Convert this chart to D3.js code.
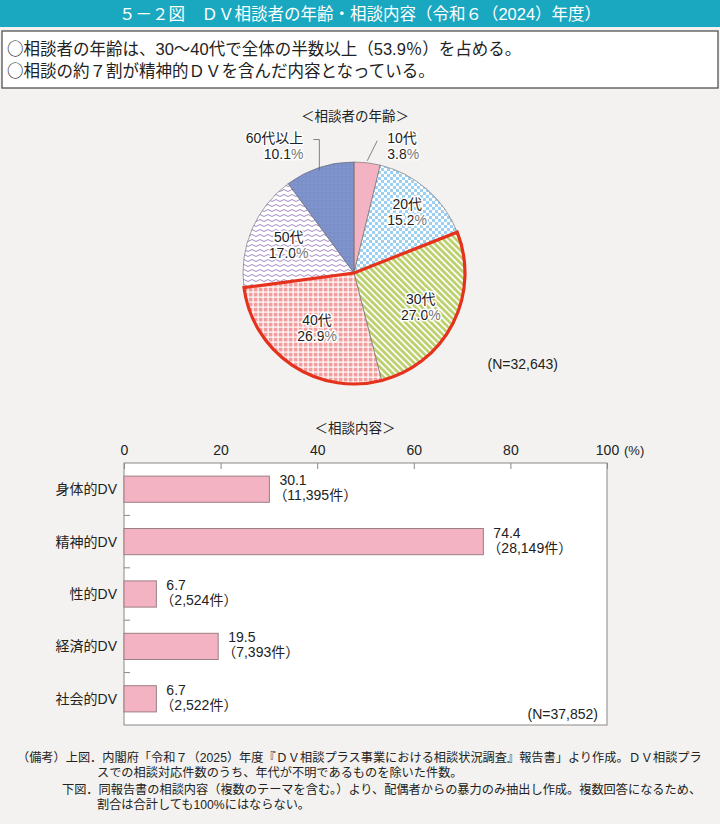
<!DOCTYPE html>
<head>
<meta charset="utf-8">
<style>
body { margin: 0; background: #f3f2f0; }
svg { display: block; }
text { font-family: "Liberation Sans", "Noto Sans CJK JP", sans-serif; fill: #222; }
.cjk { font-family: "Noto Sans CJK JP", sans-serif; }
.halo { paint-order: stroke; stroke: #fff; stroke-width: 3px; stroke-linejoin: round; }
.pct { fill: #777; }
</style>
</head>
<body>
<script src="https://cdnjs.cloudflare.com/ajax/libs/d3/7.8.5/d3.min.js"></script>
<script>
// pie: age of consulters
var ageLabels = ["10代", "20代", "30代", "40代", "50代", "60代以上"];
var ageValues = [3.8, 15.2, 27.0, 26.9, 17.0, 10.1];
var ageN = "(N=32,643)";

// bars: consultation content
var contentLabels = ["身体的DV", "精神的DV", "性的DV", "経済的DV", "社会的DV"];
var contentValues = [30.1, 74.4, 6.7, 19.5, 6.7];
var contentCounts = ["11,395", "28,149", "2,524", "7,393", "2,522"];
var contentN = "(N=37,852)";
var xTicks = [0, 20, 40, 60, 80, 100];

var W = 720, H = 824;
var svg = d3.select("body").append("svg").attr("width", W).attr("height", H);

svg.append("rect").attr("width", W).attr("height", H).attr("fill", "#f3f2f0");

// header
svg.append("rect").attr("x", 0).attr("y", 0).attr("width", W).attr("height", 27).attr("fill", "#1aa8c1");
svg.append("text").attr("x", W / 2).attr("y", 19.5).attr("text-anchor", "middle")
  .style("font-size", "16.5px").style("fill", "#fff")
  .text("５－２図　ＤＶ相談者の年齢・相談内容（令和６（2024）年度）");

// summary box
var points = [
  "相談者の年齢は、30～40代で全体の半数以上（53.9％）を占める。",
  "相談の約７割が精神的ＤＶを含んだ内容となっている。"
];
svg.append("rect").attr("x", 2).attr("y", 31).attr("width", W - 4).attr("height", 57)
  .attr("fill", "#fff").attr("stroke", "#444").attr("stroke-width", 1.2);
points.forEach(function (p, i) {
  var t = svg.append("text").attr("x", 7).attr("y", 55 + i * 22).style("font-size", "16.5px");
  t.append("tspan").attr("class", "cjk").text("○");
  t.append("tspan").text(p);
});

// patterns
var defs = svg.append("defs");

var p20 = defs.append("pattern").attr("id", "p20").attr("patternUnits", "userSpaceOnUse")
  .attr("width", 6).attr("height", 6);
p20.append("rect").attr("width", 6).attr("height", 6).attr("fill", "#fff");
p20.append("rect").attr("width", 3).attr("height", 3).attr("fill", "#9dcff0");
p20.append("rect").attr("x", 3).attr("y", 3).attr("width", 3).attr("height", 3).attr("fill", "#9dcff0");

var p30 = defs.append("pattern").attr("id", "p30").attr("patternUnits", "userSpaceOnUse")
  .attr("width", 4.5).attr("height", 4.5).attr("patternTransform", "rotate(-45)");
p30.append("rect").attr("width", 4.5).attr("height", 4.5).attr("fill", "#fff");
p30.append("rect").attr("width", 2.8).attr("height", 4.5).attr("fill", "#bcd06e");

var p40 = defs.append("pattern").attr("id", "p40").attr("patternUnits", "userSpaceOnUse")
  .attr("width", 5).attr("height", 5);
p40.append("rect").attr("width", 5).attr("height", 5).attr("fill", "#f29e9e");
p40.append("rect").attr("x", 3.5).attr("width", 1.2).attr("height", 5).attr("fill", "#fff");
p40.append("rect").attr("y", 3.5).attr("width", 5).attr("height", 1.2).attr("fill", "#fff");

var p50 = defs.append("pattern").attr("id", "p50").attr("patternUnits", "userSpaceOnUse")
  .attr("width", 8).attr("height", 5);
p50.append("rect").attr("width", 8).attr("height", 5).attr("fill", "#fff");
p50.append("path").attr("d", "M0,2.5 Q2,0.5 4,2.5 T8,2.5").attr("fill", "none")
  .attr("stroke", "#a58ac6").attr("stroke-width", 1);

var p60 = defs.append("pattern").attr("id", "p60").attr("patternUnits", "userSpaceOnUse")
  .attr("width", 4).attr("height", 4);
p60.append("rect").attr("width", 4).attr("height", 4).attr("fill", "#7b8fc9");
p60.append("circle").attr("cx", 2).attr("cy", 2).attr("r", 0.6).attr("fill", "#9aabdb");

var fills = ["#f4b3c2", "url(#p20)", "url(#p30)", "url(#p40)", "url(#p50)", "url(#p60)"];
var labelRadius = [0, 81, 75, 66, 71, 0];

// pie
var cx = 354, cy = 273, R = 111;
svg.append("text").attr("x", 355).attr("y", 121).attr("text-anchor", "middle")
  .style("font-size", "13.5px").text("＜相談者の年齢＞");

var pie = d3.pie().sort(null).value(function (d) { return d; });
var arcs = pie(ageValues);
var arc = d3.arc().innerRadius(0).outerRadius(R);

var gPie = svg.append("g").attr("transform", "translate(" + cx + "," + cy + ")");
gPie.selectAll("path.slice").data(arcs).enter().append("path")
  .attr("class", "slice")
  .attr("d", arc)
  .attr("fill", function (d, i) { return fills[i]; })
  .attr("stroke", "#666").attr("stroke-width", 0.6);

// red outline round 30代 + 40代
gPie.append("path")
  .attr("d", arc({ startAngle: arcs[2].startAngle, endAngle: arcs[3].endAngle }))
  .attr("fill", "none").attr("stroke", "#e5321d").attr("stroke-width", 3.2)
  .attr("stroke-linejoin", "miter");

// two-line label, y = baseline of first line
function pieLabel(g, x, y, name, val, anchor) {
  g.append("text").attr("class", "halo").attr("text-anchor", anchor)
    .attr("x", x).attr("y", y).style("font-size", "14px").text(name);
  var t2 = g.append("text").attr("class", "halo").attr("text-anchor", anchor)
    .attr("x", x).attr("y", y + 16).style("font-size", "14px").text(val.toFixed(1));
  t2.append("tspan").attr("class", "pct").text("%");
}

arcs.forEach(function (d, i) {
  if (i === 0 || i === 5) return;
  var c = d3.arc().innerRadius(labelRadius[i]).outerRadius(labelRadius[i]).centroid(d);
  pieLabel(gPie, c[0], c[1] - 3, ageLabels[i], ageValues[i], "middle");
});

// outside labels with leader lines
var mid0 = (arcs[0].startAngle + arcs[0].endAngle) / 2;
var e0 = [Math.sin(mid0) * R, -Math.cos(mid0) * R];
gPie.append("path").attr("d", "M" + e0[0] + "," + (e0[1] - 2) + "L" + (e0[0] + 10) + "," + (e0[1] - 22))
  .attr("fill", "none").attr("stroke", "#666").attr("stroke-width", 0.8);
pieLabel(gPie, e0[0] + 20, e0[1] - 20, ageLabels[0], ageValues[0], "start");

var mid5 = (arcs[5].startAngle + arcs[5].endAngle) / 2;
var e5 = [Math.sin(mid5) * R, -Math.cos(mid5) * R];
gPie.append("path").attr("d", "M" + e5[0] + "," + (e5[1] + 3) + "V" + (e5[1] - 28) + "H" + (e5[0] - 6))
  .attr("fill", "none").attr("stroke", "#666").attr("stroke-width", 0.8);
pieLabel(gPie, e5[0] - 16, e5[1] - 25, ageLabels[5], ageValues[5], "end");

svg.append("text").attr("x", 558).attr("y", 369).attr("text-anchor", "end")
  .style("font-size", "14px").text(ageN);

// bar chart
var plot = { left: 124, right: 607, top: 463, bottom: 725 };
svg.append("text").attr("x", 355).attr("y", 433).attr("text-anchor", "middle")
  .style("font-size", "13.5px").text("＜相談内容＞");

var x = d3.scaleLinear().domain([0, 100]).range([plot.left, plot.right]);
var y = d3.scaleBand().domain(contentLabels).range([plot.top, plot.bottom]).paddingInner(0.5).paddingOuter(0.25);

svg.append("rect").attr("x", plot.left).attr("y", plot.top)
  .attr("width", plot.right - plot.left).attr("height", plot.bottom - plot.top)
  .attr("fill", "#fff").attr("stroke", "#888").attr("stroke-width", 1);

var xAxis = d3.axisTop(x).tickValues(xTicks).tickSize(-6).tickPadding(8);
var gx = svg.append("g").attr("transform", "translate(0," + plot.top + ")").call(xAxis);
gx.select(".domain").remove();
gx.selectAll(".tick line").attr("stroke", "#888");
gx.selectAll(".tick text").style("font-size", "14px")
  .style("font-family", "\"Liberation Sans\", \"Noto Sans CJK JP\", sans-serif").attr("fill", "#222");
svg.append("text").attr("x", x(100) + 17).attr("y", plot.top - 8)
  .style("font-size", "13px").attr("fill", "#777").text("(%)");

// separator ticks on left axis
var step = y.step();
d3.range(1, contentLabels.length).forEach(function (i) {
  var yy = y(contentLabels[i]) - (step - y.bandwidth()) / 2;
  svg.append("line").attr("x1", plot.left).attr("x2", plot.left + 6)
    .attr("y1", yy).attr("y2", yy).attr("stroke", "#888");
});

svg.selectAll("rect.bar").data(contentValues).enter().append("rect")
  .attr("class", "bar")
  .attr("x", x(0))
  .attr("y", function (d, i) { return y(contentLabels[i]); })
  .attr("width", function (d) { return x(d) - x(0); })
  .attr("height", y.bandwidth())
  .attr("fill", "#f4b3c2").attr("stroke", "#9b7e84").attr("stroke-width", 1);

svg.selectAll("text.cat").data(contentLabels).enter().append("text")
  .attr("class", "cat")
  .attr("x", plot.left - 7)
  .attr("y", function (d) { return y(d) + y.bandwidth() / 2 + 5; })
  .attr("text-anchor", "end").style("font-size", "14px")
  .text(function (d) { return d; });

contentValues.forEach(function (v, i) {
  var by = y(contentLabels[i]);
  svg.append("text").attr("x", x(v) + 10).attr("y", by + 9)
    .style("font-size", "14px").text(v.toFixed(1));
  svg.append("text").attr("x", x(v) + 4).attr("y", by + 24)
    .style("font-size", "14px").text("（" + contentCounts[i] + "件）");
});

svg.append("text").attr("x", 598).attr("y", 719).attr("text-anchor", "end")
  .style("font-size", "14px").text(contentN);

// notes
var notes = [
  { x: 17, y: 762, t: "（備考）上図．内閣府「令和７（2025）年度『ＤＶ相談プラス事業における相談状況調査』報告書」より作成。ＤＶ相談プラ" },
  { x: 97, y: 777, t: "スでの相談対応件数のうち、年代が不明であるものを除いた件数。" },
  { x: 62, y: 794, t: "下図．同報告書の相談内容（複数のテーマを含む。）より、配偶者からの暴力のみ抽出し作成。複数回答になるため、" },
  { x: 97, y: 809, t: "割合は合計しても100%にはならない。" }
];
svg.selectAll("text.note").data(notes).enter().append("text")
  .attr("class", "note")
  .attr("x", function (d) { return d.x; })
  .attr("y", function (d) { return d.y; })
  .style("font-size", "12.2px").attr("fill", "#333")
  .text(function (d) { return d.t; });
</script>
</body>
